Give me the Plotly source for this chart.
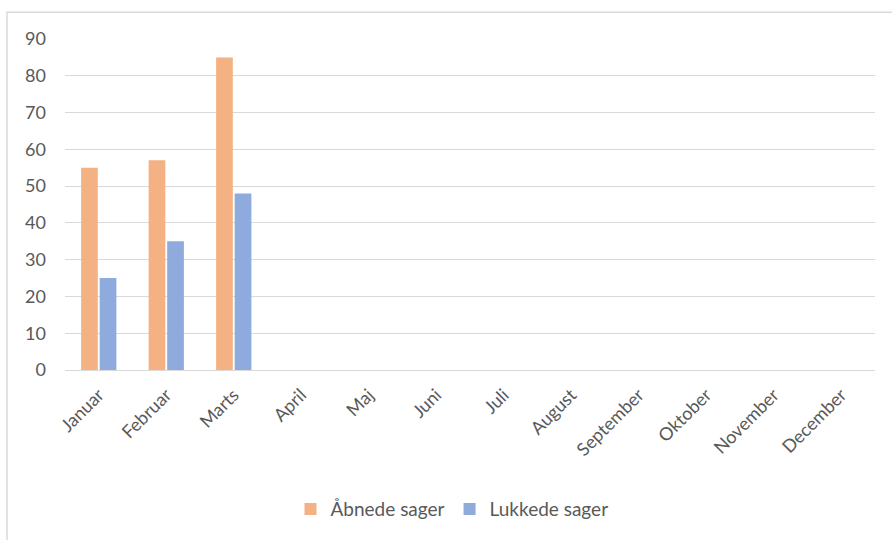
import plotly.graph_objects as go

months = ["Januar", "Februar", "Marts", "April", "Maj", "Juni", "Juli",
          "August", "September", "Oktober", "November", "December"]
aabnede = [55, 57, 85, None, None, None, None, None, None, None, None, None]
lukkede = [25, 35, 48, None, None, None, None, None, None, None, None, None]
yticks = [0, 10, 20, 30, 40, 50, 60, 70, 80, 90]

W, H = 892, 540
ml, mr, mt, mb = 65, 17, 39, 168
pw, ph = W - ml - mr, H - mt - mb

fig = go.Figure()
fig.add_trace(go.Bar(x=months, y=aabnede, name="Åbnede sager", marker_color="#F4B183",
                     marker_line_width=0))
fig.add_trace(go.Bar(x=months, y=lukkede, name="Lukkede sager", marker_color="#8FAADC",
                     marker_line_width=0))

fam = "Lato, Carlito, Calibri, sans-serif"
fig.update_layout(
    width=W, height=H,
    margin=dict(l=ml, r=mr, t=mt, b=mb),
    paper_bgcolor="white", plot_bgcolor="white",
    barmode="group", bargap=0.45, bargroupgap=0.1,
    font=dict(family=fam, size=17, color="#595959"),
    showlegend=True,
    legend=dict(orientation="h", x=(452 - ml) / pw, xanchor="center",
                y=(mt + ph - 512) / ph, yanchor="middle",
                font=dict(family=fam, size=19, color="#595959"),
                itemwidth=30, traceorder="normal"),
    xaxis=dict(tickangle=-45, showgrid=False, showline=False, ticks="",
               tickfont=dict(size=18), ticklabelstandoff=10,
               automargin=False, fixedrange=True),
    yaxis=dict(range=[0, 90], tickvals=yticks, showgrid=True, gridcolor="#D9D9D9",
               gridwidth=1, zeroline=True, zerolinecolor="#D9D9D9", zerolinewidth=1,
               showline=False, ticks="", ticklabelstandoff=18, automargin=False,
               tickfont=dict(size=18), fixedrange=True),
    shapes=[dict(type="rect", xref="paper", yref="paper",
                 x0=(7 - ml) / pw, x1=2.0, y0=-2.0, y1=1 + (mt - 12) / ph,
                 line=dict(color="#D9D9D9", width=1.5), fillcolor="rgba(0,0,0,0)",
                 layer="below")],
)
fig.write_html("out.html", config={"displayModeBar": False},
               post_script="document.body.style.margin='0';document.body.style.overflow='hidden';")
